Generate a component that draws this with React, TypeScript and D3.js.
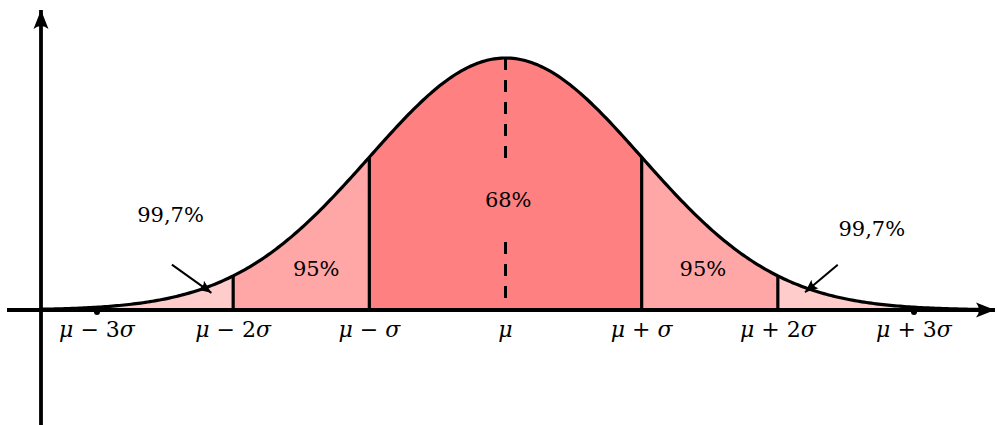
import React from "react";
import * as d3 from "d3";

const sigmaTicks = [-3, -2, -1, 0, 1, 2, 3];
const tickLabels = [
  ["μ", "−", "3", "σ"],
  ["μ", "−", "2", "σ"],
  ["μ", "−", "", "σ"],
  ["μ", "", "", ""],
  ["μ", "+", "", "σ"],
  ["μ", "+", "2", "σ"],
  ["μ", "+", "3", "σ"],
];
const bandEdges = [-3, -2, -1, 1, 2, 3];
const bandColors = ["#ffcccc", "#ffa6a6", "#ff8080", "#ffa6a6", "#ffcccc"];
const boundaryLines = [-2, -1, 1, 2];
const pctLabels = [
  { text: "68%", s: 0.02, h: 0.41 },
  { text: "95%", s: -1.39, h: 0.135 },
  { text: "95%", s: 1.45, h: 0.135 },
  { text: "99,7%", s: -2.46, h: 0.35 },
  { text: "99,7%", s: 2.69, h: 0.295 },
];
const arrows = [
  { from: [-2.45, 0.18], to: [-2.16, 0.068] },
  { from: [2.44, 0.18], to: [2.2, 0.07] },
];

const W = 997;
const H = 425;
const x = d3.scaleLinear().domain([-3, 3]).range([97, 914]);
const y = d3.scaleLinear().domain([0, 1]).range([310, 58]);
const dens = (s: number) => Math.exp(-0.5 * s * s);
const yAxisX = 41;
const curveStart = x.invert(41);
const curveEnd = x.invert(990);

function sampleRange(a: number, b: number, n = 200) {
  return d3.range(n + 1).map((i) => a + ((b - a) * i) / n);
}

export default function App() {
  const line = d3
    .line<number>()
    .x((s) => x(s))
    .y((s) => y(dens(s)));
  const area = d3
    .area<number>()
    .x((s) => x(s))
    .y0(y(0))
    .y1((s) => y(dens(s)));

  const font = "DejaVu Serif";

  return (
    <svg
      width={W}
      height={H}
      style={{ position: "absolute", left: 0, top: 0, background: "#fff" }}
    >
      <defs>
        <marker
          id="bigArrow"
          viewBox="-20 -8 22 16"
          refX={0}
          refY={0}
          markerWidth={22}
          markerHeight={16}
          markerUnits="userSpaceOnUse"
          orient="auto"
        >
          <path d="M0,0 L-19,-7.5 Q-13,0 -19,7.5 Z" fill="#000" />
        </marker>
        <marker
          id="smallArrow"
          viewBox="-14 -6 16 12"
          refX={0}
          refY={0}
          markerWidth={16}
          markerHeight={12}
          markerUnits="userSpaceOnUse"
          orient="auto"
        >
          <path d="M0,0 L-13,-5.5 Q-9,0 -13,5.5 Z" fill="#000" />
        </marker>
      </defs>

      {bandColors.map((c, i) => (
        <path
          key={"band" + i}
          d={area(sampleRange(bandEdges[i], bandEdges[i + 1], 80)) || ""}
          fill={c}
          stroke="none"
        />
      ))}

      <line x1={x(0)} x2={x(0)} y1={y(1)} y2={160} stroke="#000" strokeWidth={3} strokeDasharray="12,10" />
      <line x1={x(0)} x2={x(0)} y1={242} y2={y(0)} stroke="#000" strokeWidth={3} strokeDasharray="12,10" />

      {boundaryLines.map((s) => (
        <line key={"b" + s} x1={x(s)} x2={x(s)} y1={y(dens(s))} y2={y(0)} stroke="#000" strokeWidth={3.2} />
      ))}

      <line x1={7} x2={995} y1={y(0)} y2={y(0)} stroke="#000" strokeWidth={3.8} markerEnd="url(#bigArrow)" />
      <line x1={yAxisX} x2={yAxisX} y1={H} y2={10} stroke="#000" strokeWidth={3.8} markerEnd="url(#bigArrow)" />

      <path
        d={line(sampleRange(curveStart, curveEnd, 400)) || ""}
        fill="none"
        stroke="#000"
        strokeWidth={3.2}
      />

      {[-3, 3].map((s) => (
        <circle key={"d" + s} cx={x(s)} cy={y(0) + 2} r={3} fill="#000" />
      ))}

      {sigmaTicks.map((s, i) => {
        const [m, op, k, sg] = tickLabels[i];
        return (
          <text
            key={"t" + s}
            x={x(s)}
            y={337}
            textAnchor="middle"
            style={{ fontFamily: font, fontSize: 22 }}
            fill="#000"
          >
            <tspan fontStyle="italic">{m}</tspan>
            {op ? <tspan>{" " + op + " "}</tspan> : null}
            {k ? <tspan>{k}</tspan> : null}
            {sg ? <tspan fontStyle="italic">{sg}</tspan> : null}
          </text>
        );
      })}

      {pctLabels.map((p, i) => (
        <text
          key={"p" + i}
          x={x(p.s)}
          y={y(p.h)}
          textAnchor="middle"
          style={{ fontFamily: font, fontSize: 21 }}
          fill="#000"
        >
          {p.text}
        </text>
      ))}

      {arrows.map((a, i) => (
        <line
          key={"a" + i}
          x1={x(a.from[0])}
          y1={y(a.from[1])}
          x2={x(a.to[0])}
          y2={y(a.to[1])}
          stroke="#000"
          strokeWidth={2}
          markerEnd="url(#smallArrow)"
        />
      ))}
    </svg>
  );
}
